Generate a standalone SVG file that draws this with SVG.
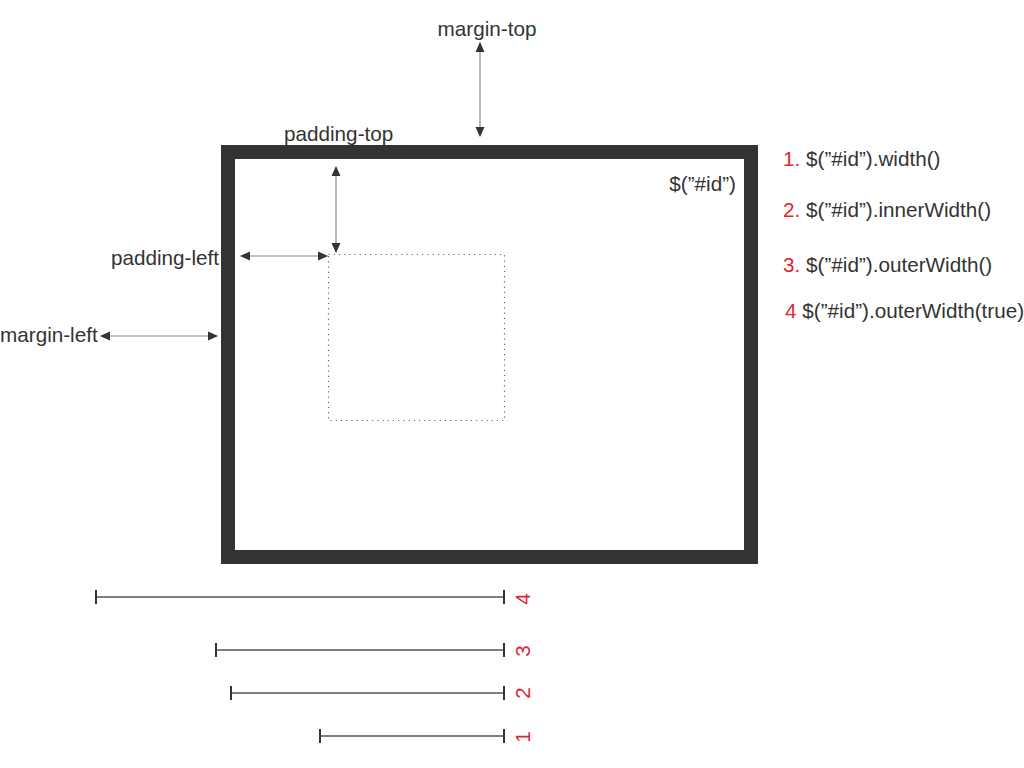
<svg xmlns="http://www.w3.org/2000/svg" width="1024" height="768" viewBox="0 0 1024 768">
<defs>
<style>
text{font-family:"Liberation Sans",Arial,sans-serif;font-size:20.7px;fill:#333}
.red{fill:#e0262e}
.arr{stroke:#888;stroke-width:1.2;fill:none;marker-start:url(#ah);marker-end:url(#ah)}
.bar{stroke:#555;stroke-width:1.5;fill:none}
.tick{stroke:#333;stroke-width:2}
</style>
<marker id="ah" viewBox="0 0 10 10" refX="9" refY="5" markerWidth="10" markerHeight="10" markerUnits="userSpaceOnUse" orient="auto-start-reverse">
<path d="M0,0.5 L10,5 L0,9.5 Z" fill="#333"/>
</marker>
</defs>
<rect width="1024" height="768" fill="#fff"/>
<g id="box">
<rect x="228" y="152" width="523" height="405" fill="#fff" stroke="#333" stroke-width="14"/>
<text x="736" y="191" text-anchor="end">$(”#id”)</text>
</g>
<g id="content">
<rect x="328.5" y="254.5" width="176" height="166" fill="none" stroke="#666" stroke-width="1.2" stroke-dasharray="1.2 4"/>
</g>
<g id="connectors">
<line class="arr" x1="480" y1="43" x2="480" y2="136"/>
<line class="arr" x1="336" y1="167" x2="336" y2="252"/>
<line class="arr" x1="241" y1="256" x2="327" y2="256"/>
<line class="arr" x1="101" y1="336" x2="217" y2="336"/>
</g>
<g id="labels">
<text x="487" y="36" text-anchor="middle">margin-top</text>
<text x="284" y="141">padding-top</text>
<text x="219" y="265" text-anchor="end">padding-left</text>
<text x="0" y="342">margin-left</text>
</g>
<g id="methods">
<text x="783" y="166"><tspan class="red">1.</tspan> $(”#id”).width()</text>
<text x="783" y="217"><tspan class="red">2.</tspan> $(”#id”).innerWidth()</text>
<text x="783" y="272"><tspan class="red">3.</tspan> $(”#id”).outerWidth()</text>
<text x="785" y="318"><tspan class="red">4</tspan> $(”#id”).outerWidth(true)</text>
</g>
<g id="bar4">
<line class="bar" x1="96" y1="597" x2="504" y2="597"/>
<line class="tick" x1="96" y1="590" x2="96" y2="604"/>
<line class="tick" x1="504" y1="590" x2="504" y2="604"/>
<text class="red" transform="translate(530,599) rotate(-90)" text-anchor="middle">4</text>
</g>
<g id="bar3">
<line class="bar" x1="216" y1="650" x2="504" y2="650"/>
<line class="tick" x1="216" y1="643" x2="216" y2="657"/>
<line class="tick" x1="504" y1="643" x2="504" y2="657"/>
<text class="red" transform="translate(530,651) rotate(-90)" text-anchor="middle">3</text>
</g>
<g id="bar2">
<line class="bar" x1="231" y1="693" x2="504" y2="693"/>
<line class="tick" x1="231" y1="686" x2="231" y2="700"/>
<line class="tick" x1="504" y1="686" x2="504" y2="700"/>
<text class="red" transform="translate(530,693) rotate(-90)" text-anchor="middle">2</text>
</g>
<g id="bar1">
<line class="bar" x1="320" y1="736" x2="504" y2="736"/>
<line class="tick" x1="320" y1="729" x2="320" y2="743"/>
<line class="tick" x1="504" y1="729" x2="504" y2="743"/>
<text class="red" transform="translate(530,737) rotate(-90)" text-anchor="middle">1</text>
</g>
</svg>
